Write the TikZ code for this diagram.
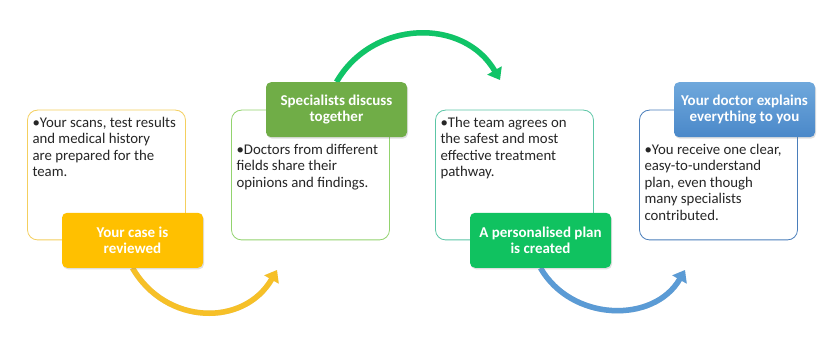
\documentclass[tikz,border=0pt]{standalone}
\usepackage{fontspec}
\setmainfont{Carlito}
\usepackage{xcolor}
\usetikzlibrary{arrows.meta,positioning,shadows}

\definecolor{panelYellow}{HTML}{F4CF5E}
\definecolor{panelGreen}{HTML}{92D36E}
\definecolor{panelTeal}{HTML}{5CC6A6}
\definecolor{panelBlue}{HTML}{4A7EBB}
\definecolor{caseYellow}{HTML}{FFC000}
\definecolor{discussGreen}{HTML}{70AD47}
\definecolor{planGreen}{HTML}{10C260}
\definecolor{explainTop}{HTML}{6FA8DC}
\definecolor{explainBottom}{HTML}{4A88C9}
\definecolor{arrowYellow}{HTML}{F6C028}
\definecolor{arrowGreen}{HTML}{10C467}
\definecolor{arrowBlue}{HTML}{5B9BD5}
\definecolor{textDark}{HTML}{262626}

\newcommand{\paneltxt}{\fontsize{14.8pt}{16.6pt}\selectfont}
\newcommand{\tagtxt}{\fontsize{15pt}{16.6pt}\selectfont\bfseries}
% bullet text, top aligned, with a hanging indent
\newcommand{\panelbody}[2]{\parbox[t][119pt][t]{148pt}{\raggedright\vspace*{#1}%
  \hangindent=7.5pt\hangafter=1\strut\makebox[7.5pt][l]{•}#2}}

\pgfdeclarelayer{background}
\pgfsetlayers{background,main}

\begin{document}
\begin{tikzpicture}[
  x=1pt, y=1pt,
  node distance=204pt,
  panel/.style={rectangle, rounded corners=10pt, draw, line width=0.8pt, fill=white,
    inner xsep=5pt, inner ysep=5.4pt, font=\paneltxt, text=textDark},
  tag/.style={rectangle, rounded corners=5pt, minimum width=141pt, minimum height=55pt,
    font=\tagtxt, text=white, align=center,
    drop shadow={opacity=0.25, shadow xshift=1pt, shadow yshift=-1.5pt}},
  flow/.style={line width=5.5pt, -{Triangle[length=11pt, width=16pt]}},
  flowshade/.style={flow, draw=black, opacity=0.1, transparency group,
    shift={(1pt,-3pt)}}
]
  \useasboundingbox (0,0) rectangle (836,351);

  \node[panel, draw=panelYellow] (b1) at (106.5,176)
    {\panelbody{0pt}{Your scans, test results\\and medical history\\are prepared for the\\team.}};
  \node[panel, draw=panelGreen, right of=b1] (b2)
    {\panelbody{27pt}{Doctors from different\\fields share their\\opinions and findings.}};
  \node[panel, draw=panelTeal, right of=b2] (b3)
    {\panelbody{0pt}{The team agrees on\\the safest and most\\effective treatment\\pathway.}};
  \node[panel, draw=panelBlue, right of=b3] (b4)
    {\panelbody{27pt}{You receive one clear,\\easy-to-understand\\plan, even though\\many specialists\\contributed.}};

  \node[tag, fill=caseYellow] (review) at ([xshift=26pt]b1.south) {Your case is\\reviewed};
  \node[tag, fill=discussGreen] (discuss) at ([xshift=26pt]b2.north) {Specialists discuss\\together};
  \node[tag, fill=planGreen] (plan) at ([xshift=26pt]b3.south) {A personalised plan\\is created};
  \node[tag, top color=explainTop, bottom color=explainBottom] (explain)
    at ([xshift=26pt]b4.north) {Your doctor explains\\everything to you};

  \coordinate (tipA) at (277,81);
  \coordinate (tipB) at (500,271);
  \coordinate (tipC) at (685,81);

  \begin{pgfonlayer}{background}
    \draw[flowshade] (review.south) to[out=-60, in=-120, looseness=1.17] (tipA);
    \draw[flowshade] (discuss.north) to[out=60, in=120, looseness=1.13] (tipB);
    \draw[flowshade] (plan.south) to[out=-60, in=-120, looseness=1.1] (tipC);
    \draw[flow, draw=arrowYellow] (review.south) to[out=-60, in=-120, looseness=1.17] (tipA);
    \draw[flow, draw=arrowGreen] (discuss.north) to[out=60, in=120, looseness=1.13] (tipB);
    \draw[flow, draw=arrowBlue] (plan.south) to[out=-60, in=-120, looseness=1.1] (tipC);
  \end{pgfonlayer}
\end{tikzpicture}
\end{document}
